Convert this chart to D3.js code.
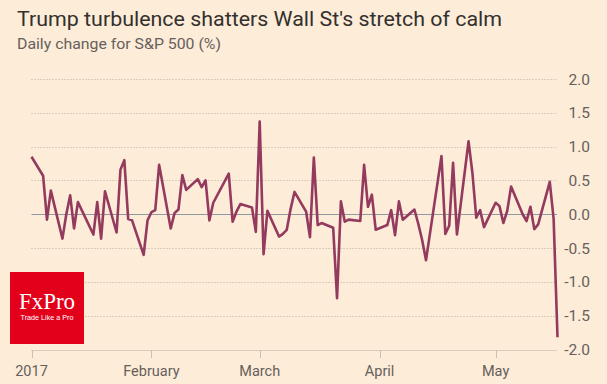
<!DOCTYPE html>
<html><head><meta charset="utf-8">
<script src="https://cdn.jsdelivr.net/npm/d3@7"></script>
<style>
html,body{margin:0;padding:0;background:#fdecd8;}
svg{display:block;}
</style></head>
<body><svg id="c" width="607" height="384"></svg>
<script>
const title = "Trump turbulence shatters Wall St's stretch of calm";
const subtitle = "Daily change for S&P 500 (%)";
const dates = ["2017-01-01","2017-01-04","2017-01-05","2017-01-06","2017-01-09","2017-01-10","2017-01-11","2017-01-12","2017-01-13",
"2017-01-17","2017-01-18","2017-01-19","2017-01-20","2017-01-23","2017-01-24","2017-01-25","2017-01-26","2017-01-27",
"2017-01-30","2017-01-31","2017-02-01","2017-02-02","2017-02-03","2017-02-06","2017-02-07","2017-02-08","2017-02-09","2017-02-10",
"2017-02-13","2017-02-14","2017-02-15","2017-02-16","2017-02-17","2017-02-21","2017-02-22","2017-02-23","2017-02-24",
"2017-02-27","2017-02-28","2017-03-01","2017-03-02","2017-03-03","2017-03-06","2017-03-07","2017-03-08","2017-03-09","2017-03-10",
"2017-03-13","2017-03-14","2017-03-15","2017-03-16","2017-03-17","2017-03-20","2017-03-21","2017-03-22","2017-03-23","2017-03-24",
"2017-03-27","2017-03-28","2017-03-29","2017-03-30","2017-03-31","2017-04-03","2017-04-04","2017-04-05","2017-04-06","2017-04-07",
"2017-04-10","2017-04-11","2017-04-12","2017-04-13","2017-04-17","2017-04-18","2017-04-19","2017-04-20","2017-04-21",
"2017-04-24","2017-04-25","2017-04-26","2017-04-27","2017-04-28","2017-05-01","2017-05-02","2017-05-03","2017-05-04","2017-05-05",
"2017-05-08","2017-05-09","2017-05-10","2017-05-11","2017-05-12","2017-05-15","2017-05-16","2017-05-17"];
const changes = [0.85,0.57,-0.08,0.35,-0.36,0.00,0.28,-0.21,0.18,
-0.30,0.18,-0.36,0.34,-0.27,0.66,0.80,-0.07,-0.09,
-0.60,-0.09,0.03,0.06,0.73,-0.21,0.02,0.07,0.58,0.36,
0.52,0.40,0.50,-0.09,0.17,0.60,-0.11,0.04,0.15,
0.10,-0.26,1.37,-0.59,0.05,-0.33,-0.29,-0.23,0.08,0.33,
0.04,-0.34,0.84,-0.16,-0.13,-0.20,-1.24,0.19,-0.11,-0.08,
-0.10,0.73,0.11,0.29,-0.23,-0.16,0.06,-0.31,0.19,-0.08,
0.07,-0.14,-0.38,-0.68,0.86,-0.29,-0.17,0.76,-0.30,
1.08,0.61,-0.05,0.06,-0.19,0.17,0.12,-0.13,0.05,0.41,
0.00,-0.10,0.11,-0.22,-0.15,0.48,-0.07,-1.82];
const yTicks = [2.0,1.5,1.0,0.5,0.0,-0.5,-1.0,-1.5,-2.0];
const xTickDates = ["2017-01-01","2017-02-01","2017-03-01","2017-04-01","2017-05-01"];
const xTickLabels = ["2017","February","March","April","May"];

const parse = d3.utcParse("%Y-%m-%d");
const data = dates.map((d,i)=>({date:parse(d), v:changes[i]}));
const svg = d3.select("#c");
const x = d3.scaleUtc().domain([parse("2017-01-01"), parse("2017-05-17")]).range([31.5, 557.5]);
const y = d3.scaleLinear().domain([-2,2]).range([349.5,79]);
const gridX0 = 31.5, gridX1 = 557;

// titles
svg.append("text").attr("x",17).attr("y",26).text(title)
  .attr("font-family","Roboto, 'Open Sans', sans-serif").attr("font-size",20.5).attr("fill","#33302e")
  .attr("textLength",485).attr("lengthAdjust","spacingAndGlyphs");
svg.append("text").attr("x",17).attr("y",49).text(subtitle)
  .attr("font-family","Roboto, 'Open Sans', sans-serif").attr("font-size",14).attr("fill","#66605c")
  .attr("textLength",204).attr("lengthAdjust","spacingAndGlyphs");

// grid
const grid = svg.append("g");
grid.selectAll("line").data(yTicks.filter(t=>t!==0)).join("line")
  .attr("x1",gridX0).attr("x2",gridX1).attr("y1",d=>Math.round(y(d))+0.5).attr("y2",d=>Math.round(y(d))+0.5)
  .attr("stroke","#b9aea3").attr("stroke-width",1).attr("stroke-dasharray",d=>d===-2?"1,1":"1,2");
svg.append("line").attr("x1",gridX0).attr("x2",gridX1).attr("y1",Math.round(y(0))+0.5).attr("y2",Math.round(y(0))+0.5)
  .attr("stroke","#8f9aa0").attr("stroke-width",1.2);

// y labels
svg.append("g").selectAll("text").data(yTicks).join("text")
  .attr("x",590).attr("y",d=>y(d)+5.5).attr("text-anchor","end")
  .attr("font-family","Roboto, 'Open Sans', sans-serif").attr("font-size",15.5).attr("fill","#66605c")
  .text(d=>d3.format(".1f")(d).replace("−","-"));

// x ticks
const xt = xTickDates.map((d,i)=>({d:parse(d), l:xTickLabels[i]}));
svg.append("g").selectAll("line").data(xt).join("line")
  .attr("x1",d=>Math.round(x(d.d))+0.5).attr("x2",d=>Math.round(x(d.d))+0.5).attr("y1",350).attr("y2",358)
  .attr("stroke","#c9c0b6").attr("stroke-width",1);
svg.append("g").selectAll("text").data(xt).join("text")
  .attr("x",d=>x(d.d)).attr("y",376).attr("text-anchor","middle")
  .attr("font-family","Roboto, 'Open Sans', sans-serif").attr("font-size",14.5).attr("fill","#66605c")
  .text(d=>d.l);

// line
svg.append("path").datum(data)
  .attr("d", d3.line().x(d=>x(d.date)).y(d=>y(d.v)))
  .attr("fill","none").attr("stroke","#933a5e").attr("stroke-width",2.6).attr("stroke-linejoin","round");

// logo
const logo = svg.append("g");
logo.append("rect").attr("x",10).attr("y",272).attr("width",74).attr("height",72).attr("fill","#e3001b");
logo.append("text").attr("x",47).attr("y",309).attr("text-anchor","middle")
  .attr("font-family","'Liberation Serif', 'DejaVu Serif', serif").attr("font-size",23).attr("fill","#fff").text("FxPro");
logo.append("text").attr("x",47).attr("y",320).attr("text-anchor","middle")
  .attr("font-family","'Liberation Sans', Arial, sans-serif").attr("font-size",7.2).attr("fill","#fff").text("Trade Like a Pro");
</script></body></html>
